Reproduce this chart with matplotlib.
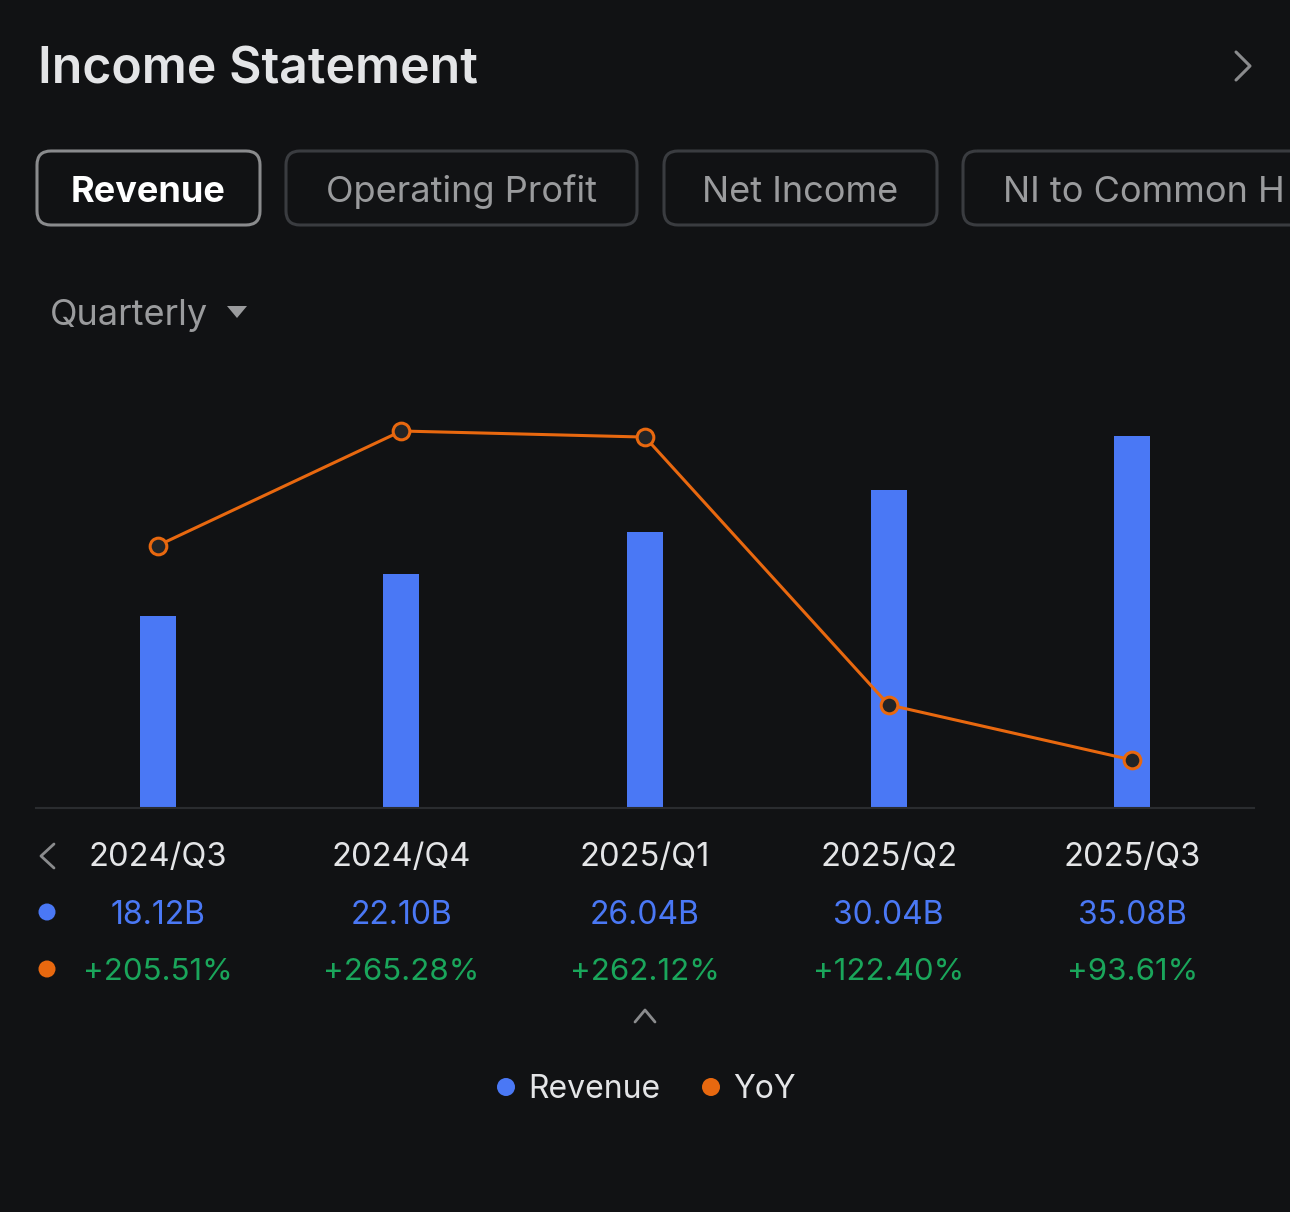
"""Income Statement - Revenue / YoY chart"""
import matplotlib
matplotlib.use('Agg')
import matplotlib.pyplot as plt
from matplotlib.patches import FancyBboxPatch, Polygon, Circle
import matplotlib.transforms as mtransforms

plt.rcParams['font.family'] = ['Inter', 'DejaVu Sans']

# data
quarters = ['2024/Q3', '2024/Q4', '2025/Q1', '2025/Q2', '2025/Q3']
revenue = [18.12, 22.10, 26.04, 30.04, 35.08]          # billions
yoy = [205.51, 265.28, 262.12, 122.40, 93.61]          # percent
tabs = ['Revenue', 'Operating Profit', 'Net Income', 'NI to Common H']
legend_labels = ['Revenue', 'YoY']

BG = '#111214'
BLUE = '#4a78f5'
ORANGE = '#e8680f'
GREEN = '#1aa65b'
TEXT = '#e4e5e7'
GREY = '#9a9b9d'

W, H = 1290, 1212
fig = plt.figure(figsize=(W / 100, H / 100), dpi=100, facecolor=BG)

# overlay in pixel coordinates for the surrounding UI
ov = fig.add_axes([0, 0, 1, 1], zorder=0)
ov.set_xlim(0, W)
ov.set_ylim(H, 0)
ov.axis('off')
ov.set_facecolor(BG)

# chart axes
ax = fig.add_axes([36 / W, (H - 808) / H, (1254 - 36) / W, (808 - 380) / H], zorder=1)
ax.set_facecolor('none')
ax.bar(range(len(quarters)), revenue, width=0.148, color=BLUE, zorder=2)
ax.set_xlim(-0.5, 4.5)
ax.set_ylim(0, 40.4)
for s in ['top', 'right', 'left']:
    ax.spines[s].set_visible(False)
ax.spines['bottom'].set_color('#2a2c2f')
ax.spines['bottom'].set_linewidth(1.5)
ax.set_xticks([])
ax.set_yticks([])

ax2 = ax.twinx()
ax2.plot(range(len(quarters)), yoy, color=ORANGE, lw=2.2, marker='o', ms=12,
         mfc='#222426', mec=ORANGE, mew=2.2, zorder=3)
ax2.set_ylim(68.56, 291.9)
ax2.axis('off')

# title
ov.text(38, 70, 'Income Statement', fontsize=36, fontweight='semibold', color=TEXT,
        va='center', ha='left')
ov.plot([1236, 1250, 1236], [52, 66, 80], color='#8a8b8d', lw=2.2, solid_capstyle='round',
        solid_joinstyle='round')

# tabs
tab_x = [(37, 260), (286, 637), (664, 937), (963, 1320)]
for i, (name, (x0, x1)) in enumerate(zip(tabs, tab_x)):
    active = i == 0
    box = FancyBboxPatch((x0, 151), x1 - x0, 74, boxstyle='round,pad=0,rounding_size=14',
                         fc='none', ec='#8a8b8d' if active else '#3a3c40', lw=2.2)
    ov.add_patch(box)
    cx = (x0 + x1) / 2 if i < 3 else 1003
    ov.text(cx, 192, name, fontsize=26, color='#ffffff' if active else GREY,
            fontweight='bold' if active else 'normal',
            ha='center' if i < 3 else 'left', va='center')

# period selector
ov.text(50, 315, 'Quarterly', fontsize=26, color=GREY, va='center', ha='left')
ov.add_patch(Polygon([[227, 306], [247, 306], [237, 318]], closed=True, fc=GREY, ec='none'))

# data table below the chart
tr = mtransforms.blended_transform_factory(ax.transData, ov.transData)
for i, q in enumerate(quarters):
    ax.text(i, 858, q, transform=tr, fontsize=23.5, color=TEXT, ha='center', va='center')
    ax.text(i, 915, f'{revenue[i]:.2f}B', transform=tr, fontsize=23, color=BLUE,
            ha='center', va='center')
    ax.text(i, 972, f'+{yoy[i]:.2f}%', transform=tr, fontsize=22.5, color=GREEN,
            ha='center', va='center')

ov.plot([54, 41, 54], [844, 856, 868], color='#8a8b8d', lw=2, solid_capstyle='round')
ov.add_patch(Circle((47, 912), 8.5, fc=BLUE, ec='none'))
ov.add_patch(Circle((47, 969), 8.5, fc=ORANGE, ec='none'))
ov.plot([635, 645, 655], [1022, 1010, 1022], color='#8a8b8d', lw=2, solid_capstyle='round')

# legend
for (dot_x, txt_x), label, col in zip([(506, 528), (711, 733)], legend_labels, [BLUE, ORANGE]):
    ov.add_patch(Circle((dot_x, 1087), 9, fc=col, ec='none'))
    ov.text(txt_x, 1090, label, fontsize=23, color=TEXT, ha='left', va='center')

fig.savefig('out.png', dpi=100, facecolor=BG)
